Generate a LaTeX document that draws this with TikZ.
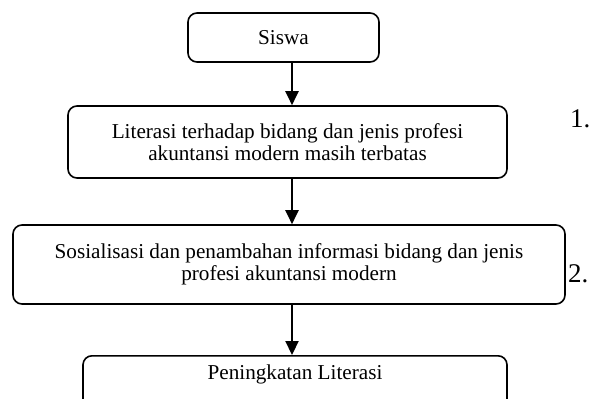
\documentclass[tikz,border=0pt]{standalone}
\usepackage{fontspec}
\setmainfont{Liberation Serif}
\usetikzlibrary{arrows.meta}
\begin{document}
\begin{tikzpicture}[x=1pt,y=-1pt,
  box/.style={draw, line width=1.6pt, rounded corners=9pt, align=center, inner sep=0pt,
    font=\fontsize{21.2}{22}\selectfont},
  flow/.style={-{Triangle[width=13pt,length=14pt]}, line width=2.2pt},
  num/.style={font=\fontsize{27}{30}\selectfont, anchor=base west, inner sep=0pt}]
\path[use as bounding box, clip] (0,0) rectangle (592,399);
\coordinate (ax) at (292,0);
\node[box, minimum width=191pt, minimum height=49pt] (s) at (283.5,37.5) {Siswa};
\node[box, minimum width=439pt, minimum height=72pt] (b2) at (287.5,142)
  {Literasi terhadap bidang dan jenis profesi\\akuntansi modern masih terbatas};
\node[box, minimum width=552pt, minimum height=79pt] (b3) at (289,264.5)
  {Sosialisasi dan penambahan informasi bidang dan jenis\\profesi akuntansi modern};
\node[box, anchor=north, minimum width=424pt, inner ysep=6pt, text height=18pt, text depth=35pt] (b4) at (295,355)
  {Peningkatan Literasi};
\draw[flow] (s.south -| ax) -- (b2.north -| ax);
\draw[flow] (b2.south -| ax) -- (b3.north -| ax);
\draw[flow] (b3.south -| ax) -- (b4.north -| ax);
\node[num] (n1) at (570,127) {1.};
\node[num] (n2) at (568,282) {2.};
\end{tikzpicture}
\end{document}
